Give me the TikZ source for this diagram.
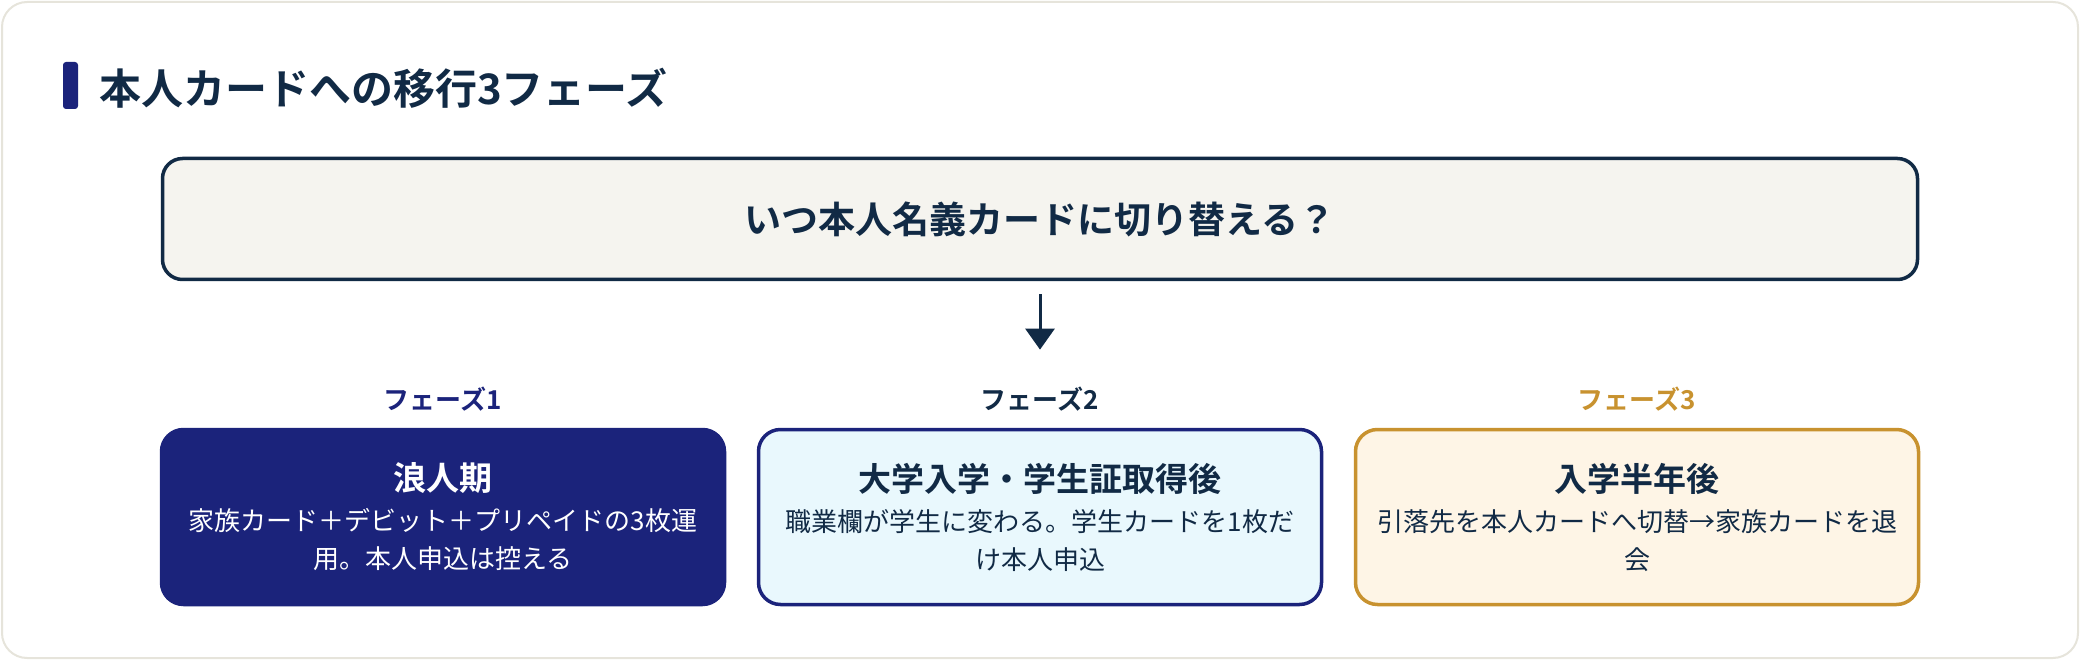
\documentclass[tikz,border=0pt]{standalone}
\usepackage{fontspec}
\setmainfont{Noto Sans CJK JP}[BoldFont={* Bold}]
\usetikzlibrary{arrows.meta,positioning}
\definecolor{ink}{HTML}{112A45}
\definecolor{navy}{HTML}{1B237B}
\definecolor{gold}{HTML}{C8922F}
\definecolor{paper}{HTML}{F5F4EF}
\definecolor{icefill}{HTML}{E9F8FD}
\definecolor{creamfill}{HTML}{FEF5E6}
\definecolor{cardline}{HTML}{E6E4DB}
\newcommand{\phasetext}[2]{{\fontsize{33}{40}\selectfont\bfseries #1}\\[2pt] #2}

\begin{document}
\begin{tikzpicture}[x=1pt,y=-1pt,
    qbox/.style={draw=ink, fill=paper, line width=3.5pt, rounded corners=20pt,
        minimum width=1755pt, minimum height=121pt, inner sep=0pt,
        font=\fontsize{37}{42}\selectfont\bfseries, text=ink},
    phasebox/.style={line width=3.5pt, rounded corners=22pt, minimum width=563pt,
        minimum height=175pt, inner sep=0pt, align=center,
        font=\fontsize{26}{38}\selectfont},
    phaselabel/.style={inner sep=0pt, font=\fontsize{26}{30}\selectfont\bfseries},
    arr/.style={draw=ink, line width=3pt, -{Triangle[width=29pt,length=21pt]}}]
    \useasboundingbox (0,0) rectangle (2080,660);
    \draw[cardline, line width=2pt, fill=white, rounded corners=25pt] (2,2) rectangle (2078,658);

    % title
    \fill[navy, rounded corners=3pt] (63,62) rectangle (78,109);
    \node[anchor=west, inner sep=0pt, text=ink, font=\fontsize{42}{48}\selectfont\bfseries] (title) at (99,88) {本人カードへの移行3フェーズ};

    \node[qbox] (q) at (1040,219) {いつ本人名義カードに切り替える？};

    % phases
    \node[phasebox, draw=navy, fill=navy, text=white] (p1) at (443,517)
        {\phasetext{浪人期}{家族カード＋デビット＋プリペイドの3枚運\\用。本人申込は控える}};
    \node[phasebox, draw=navy, fill=icefill, text=ink] (p2) at (1040,517)
        {\phasetext{大学入学・学生証取得後}{職業欄が学生に変わる。学生カードを1枚だ\\け本人申込}};
    \node[phasebox, draw=gold, fill=creamfill, text=ink] (p3) at (1637,517)
        {\phasetext{入学半年後}{引落先を本人カードへ切替→家族カードを退\\会}};

    \node[phaselabel, text=navy] (l1) at (443,399) {フェーズ1};
    \node[phaselabel, text=ink] (l2) at (1040,399) {フェーズ2};
    \node[phaselabel, text=gold] (l3) at (1637,399) {フェーズ3};

    \draw[arr, shorten <=13pt, shorten >=37pt] (q.south) -- (l2.north);
\end{tikzpicture}
\end{document}
